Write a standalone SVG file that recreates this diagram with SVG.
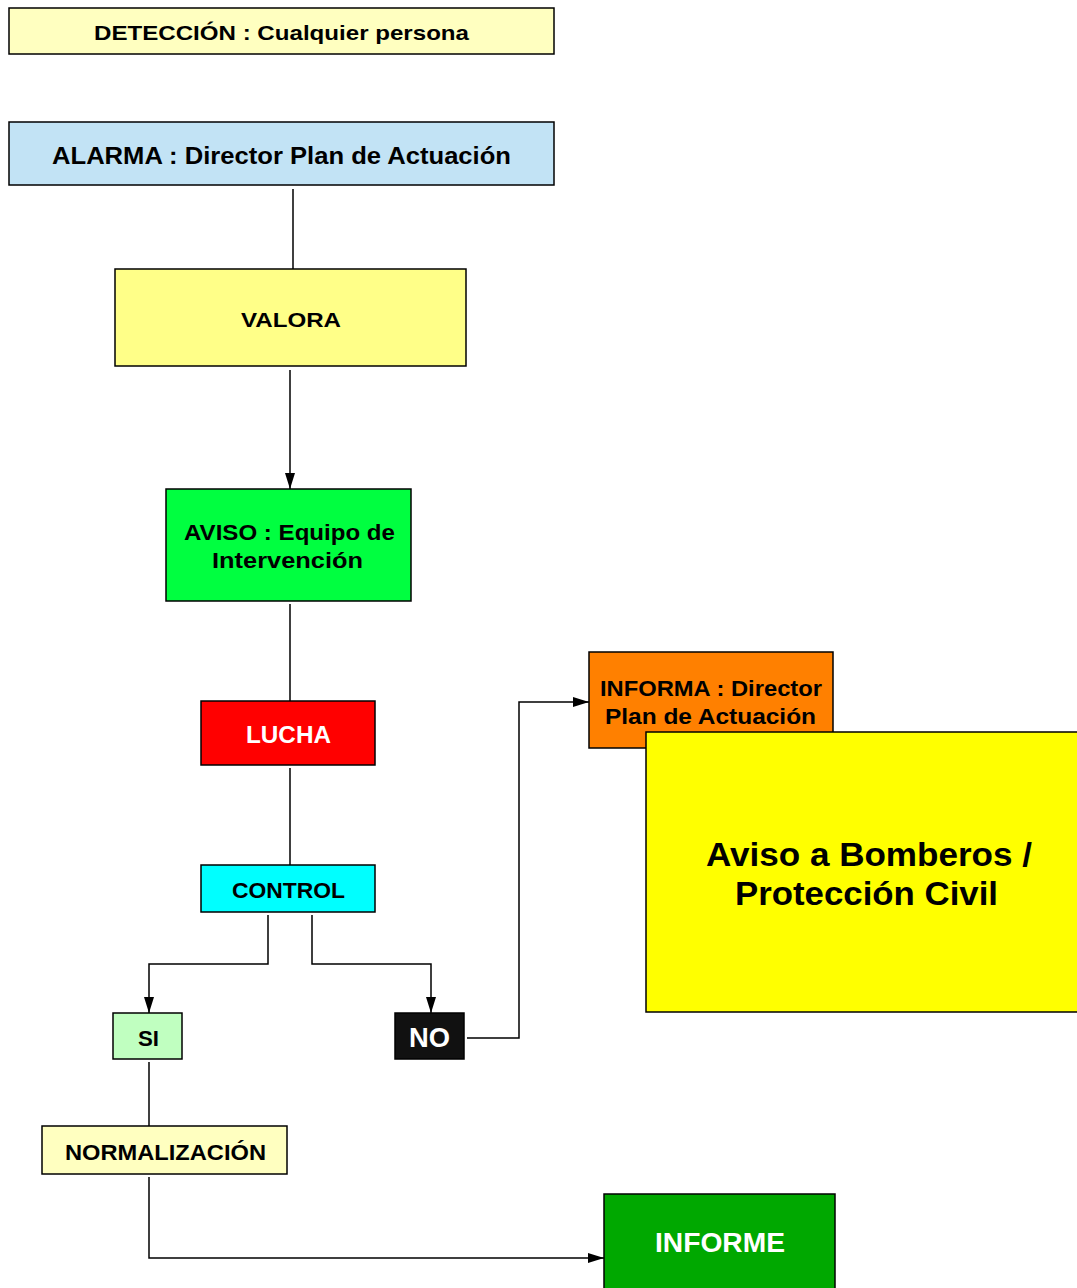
<svg xmlns="http://www.w3.org/2000/svg" width="1077" height="1288" viewBox="0 0 1077 1288">
<style>
.b{stroke:#000;stroke-width:1.5}
.t{font-family:"Liberation Sans",Arial,sans-serif;font-weight:bold;text-anchor:middle;dominant-baseline:central;fill:#000}
.w{fill:#fff}
.c{fill:none;stroke:#000;stroke-width:1.5}
</style>
<defs>
<marker id="ar" markerWidth="16" markerHeight="10" refX="16" refY="5" orient="auto" markerUnits="userSpaceOnUse">
<path d="M0,0 L16,5 L0,10 Z" fill="#000"/>
</marker>
</defs>
<rect width="1077" height="1288" fill="#fff"/>
<g id="connectors">
<path class="c" d="M293,189 V269"/>
<path class="c" d="M290,370 V489" marker-end="url(#ar)"/>
<path class="c" d="M290,604 V701"/>
<path class="c" d="M290,768 V865"/>
<path class="c" d="M268,915 V964 H149 V1013" marker-end="url(#ar)"/>
<path class="c" d="M312,915 V964 H431 V1013" marker-end="url(#ar)"/>
<path class="c" d="M467,1038 H519 V702 H589" marker-end="url(#ar)"/>
<path class="c" d="M149,1062 V1126"/>
<path class="c" d="M149,1177 V1258 H604" marker-end="url(#ar)"/>
</g>
<g id="deteccion"><rect class="b" x="9" y="8" width="545" height="46" fill="#FFFFC0"/><text class="t" x="281.5" y="32" font-size="21" textLength="375" lengthAdjust="spacingAndGlyphs">DETECCIÓN : Cualquier persona</text></g>
<g id="alarma"><rect class="b" x="9" y="122" width="545" height="63" fill="#C2E3F5"/><text class="t" x="281.5" y="155" font-size="24" textLength="459" lengthAdjust="spacingAndGlyphs">ALARMA : Director Plan de Actuación</text></g>
<g id="valora"><rect class="b" x="115" y="269" width="351" height="97" fill="#FFFF88"/><text class="t" x="291" y="319" font-size="21" textLength="100" lengthAdjust="spacingAndGlyphs">VALORA</text></g>
<g id="aviso"><rect class="b" x="166" y="489" width="245" height="112" fill="#00FF40"/><text class="t" x="289.5" y="532" font-size="22" textLength="211" lengthAdjust="spacingAndGlyphs">AVISO : Equipo de</text><text class="t" x="287.5" y="560" font-size="22" textLength="151" lengthAdjust="spacingAndGlyphs">Intervención</text></g>
<g id="lucha"><rect class="b" x="201" y="701" width="174" height="64" fill="#FF0000"/><text class="t w" x="288.5" y="734" font-size="24" textLength="85" lengthAdjust="spacingAndGlyphs">LUCHA</text></g>
<g id="control"><rect class="b" x="201" y="865" width="174" height="47" fill="#00FFFF"/><text class="t" x="288.5" y="890" font-size="22" textLength="113" lengthAdjust="spacingAndGlyphs">CONTROL</text></g>
<g id="si"><rect class="b" x="113" y="1013" width="69" height="46" fill="#C0FFC0"/><text class="t" x="148.5" y="1038" font-size="22" textLength="21" lengthAdjust="spacingAndGlyphs">SI</text></g>
<g id="no"><rect class="b" x="395" y="1013" width="69" height="46" fill="#111111"/><text class="t w" x="429.5" y="1038" font-size="27" textLength="41" lengthAdjust="spacingAndGlyphs">NO</text></g>
<g id="informa"><rect class="b" x="589" y="652" width="244" height="96" fill="#FF8000"/><text class="t" x="711" y="688" font-size="22" textLength="222" lengthAdjust="spacingAndGlyphs">INFORMA : Director</text><text class="t" x="710.5" y="716" font-size="22" textLength="211" lengthAdjust="spacingAndGlyphs">Plan de Actuación</text></g>
<g id="bomberos"><rect class="b" x="646" y="732" width="440" height="280" fill="#FFFF00"/><text class="t" x="869" y="854" font-size="34" textLength="326" lengthAdjust="spacingAndGlyphs">Aviso a Bomberos /</text><text class="t" x="866.5" y="893" font-size="34" textLength="263" lengthAdjust="spacingAndGlyphs">Protección Civil</text></g>
<g id="normalizacion"><rect class="b" x="42" y="1126" width="245" height="48" fill="#FFFFC0"/><text class="t" x="165.5" y="1152" font-size="22" textLength="201" lengthAdjust="spacingAndGlyphs">NORMALIZACIÓN</text></g>
<g id="informe"><rect class="b" x="604" y="1194" width="231" height="100" fill="#00A800"/><text class="t w" x="720" y="1243" font-size="27" textLength="130" lengthAdjust="spacingAndGlyphs">INFORME</text></g>
</svg>
